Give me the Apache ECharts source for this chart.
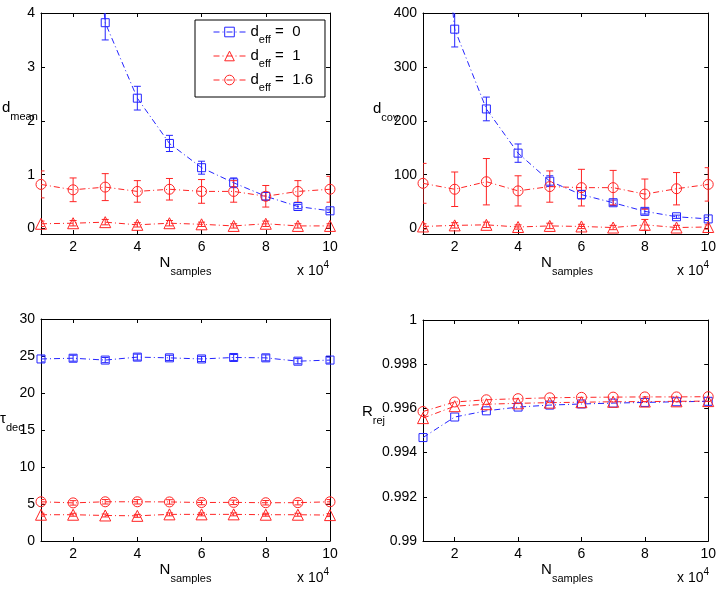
<!DOCTYPE html>
<html>
<head>
<meta charset="utf-8">
<script src="https://cdn.jsdelivr.net/npm/echarts@6/dist/echarts.min.js"></script>
<style>
  html, body { margin: 0; padding: 0; background: #fff; }
  #box { width: 719px; height: 593px; }
</style>
</head>
<body>
<div id="box"></div>
<script>
// x values (x 10^4 samples)
const nSamples = [1, 2, 3, 4, 5, 6, 7, 8, 9, 10];
const xTicks = [2, 4, 6, 8, 10];

// d_mean
const meanD0 = [23, 9.4, 3.82, 2.42, 1.58, 1.13, 0.85, 0.60, 0.41, 0.33];
const meanD0Err = [2, 0.8, 0.32, 0.22, 0.15, 0.12, 0.09, 0.07, 0.04, 0.03];
const meanD1 = [0.09, 0.10, 0.12, 0.07, 0.10, 0.08, 0.05, 0.09, 0.05, 0.05];
const meanD1Err = [0.05, 0.05, 0.05, 0.04, 0.05, 0.04, 0.04, 0.05, 0.04, 0.04];
const meanD16 = [0.82, 0.72, 0.77, 0.69, 0.73, 0.69, 0.69, 0.60, 0.69, 0.73];
const meanD16Err = [0.25, 0.22, 0.25, 0.20, 0.20, 0.22, 0.20, 0.20, 0.20, 0.24];
const meanTicks = [0, 1, 2, 3, 4];

// d_cov
const covD0 = [930, 370, 222, 140, 88, 63, 48, 32, 22, 18];
const covD0Err = [60, 33, 22, 17, 10, 8, 5, 5, 3, 3];
const covD1 = [4, 6, 7, 3, 5, 4, 2, 7, 2, 3];
const covD1Err = [5, 5, 5, 4, 5, 4, 4, 10, 4, 4];
const covD16 = [84, 73, 87, 70, 78, 76, 76, 64, 74, 82];
const covD16Err = [37, 32, 43, 28, 29, 34, 32, 28, 30, 31];
const covTicks = [0, 100, 200, 300, 400];

// tau_dec
const tauD0 = [24.6, 24.7, 24.45, 24.85, 24.75, 24.6, 24.8, 24.75, 24.3, 24.45];
const tauD0Err = [0.4, 0.4, 0.35, 0.4, 0.35, 0.35, 0.4, 0.4, 0.35, 0.4];
const tauD1 = [3.55, 3.55, 3.45, 3.4, 3.6, 3.6, 3.6, 3.55, 3.55, 3.5];
const tauD1Err = [0.2, 0.2, 0.2, 0.2, 0.2, 0.2, 0.2, 0.2, 0.2, 0.2];
const tauD16 = [5.3, 5.15, 5.3, 5.3, 5.28, 5.2, 5.22, 5.17, 5.18, 5.3];
const tauD16Err = [0.3, 0.3, 0.3, 0.3, 0.3, 0.3, 0.3, 0.3, 0.3, 0.3];
const tauTicks = [0, 5, 10, 15, 20, 25, 30];

// R_rej
const rejD0 = [0.99468, 0.99561, 0.99589, 0.99606, 0.99615, 0.99620, 0.99624, 0.99627, 0.99630, 0.99632];
const rejD1 = [0.99556, 0.99610, 0.99619, 0.99623, 0.99626, 0.99628, 0.99630, 0.99631, 0.99632, 0.99633];
const rejD16 = [0.99586, 0.99629, 0.99639, 0.99644, 0.99648, 0.99650, 0.99651, 0.99652, 0.99652, 0.99653];
const rejTicks = [0.99, 0.992, 0.994, 0.996, 0.998, 1];

const FONT = '"Liberation Sans", Arial, Helvetica, sans-serif';
const BLUE = '#2424ff';
const RED = '#ff2424';
const DASHDOT = [6, 3, 1, 3];

const grids = [
  {left: 41, top: 13, width: 289, height: 221},
  {left: 423, top: 13, width: 288, height: 221},
  {left: 41, top: 319, width: 289, height: 222},
  {left: 423, top: 320, width: 288, height: 221}
];

const rich = {
  m: {fontSize: 15, fontFamily: FONT, lineHeight: 17, verticalAlign: 'top', color: '#000', fill: '#000'},
  s: {fontSize: 11, fontFamily: FONT, lineHeight: 13, padding: [11, 0, 0, 0], verticalAlign: 'top', color: '#000', fill: '#000'},
  mp: {fontSize: 14, fontFamily: FONT, lineHeight: 17, padding: [4, 0, 0, 0], verticalAlign: 'top', color: '#000', fill: '#000'},
  p: {fontSize: 10, fontFamily: FONT, lineHeight: 11, verticalAlign: 'top', color: '#000', fill: '#000'},
  lm: {fontSize: 15, fontFamily: FONT, lineHeight: 16, verticalAlign: 'top', color: '#000'},
  ls: {fontSize: 11, fontFamily: FONT, lineHeight: 12, padding: [10, 0, 0, 0], verticalAlign: 'top', color: '#000'}
};

const legendNames = {
  d0: '{lm|d}{ls|eff}{lm| =  0}',
  d1: '{lm|d}{ls|eff}{lm| =  1}',
  d16: '{lm|d}{ls|eff}{lm| =  1.6}'
};

function xAxes(k) {
  const base = {
    type: 'value', gridIndex: k, min: 1, max: 10,
    axisLine: {show: true, onZero: false, lineStyle: {color: '#000', width: 1}},
    axisTick: {show: true, inside: true, length: 4, customValues: xTicks, lineStyle: {color: '#000'}},
    splitLine: {show: false}
  };
  return [
    Object.assign({}, base, {position: 'bottom',
      axisLabel: {show: true, customValues: xTicks, margin: 6, color: '#000', fontSize: 14, fontFamily: FONT}}),
    Object.assign({}, base, {position: 'top', axisLabel: {show: false}})
  ];
}

function yAxes(k, min, max, ticks) {
  const base = {
    type: 'value', gridIndex: k, min: min, max: max,
    axisLine: {show: true, onZero: false, lineStyle: {color: '#000', width: 1}},
    axisTick: {show: true, inside: true, length: 4, customValues: ticks, lineStyle: {color: '#000'}},
    splitLine: {show: false}
  };
  return [
    Object.assign({}, base, {position: 'left',
      axisLabel: {show: true, customValues: ticks, margin: 6, color: '#000', fontSize: 14, fontFamily: FONT,
        formatter: v => String(v)}}),
    Object.assign({}, base, {position: 'right', axisLabel: {show: false}})
  ];
}

function lineSeries(k, name, vals, color, symbol, size) {
  return {
    type: 'line', name: name, xAxisIndex: 2 * k, yAxisIndex: 2 * k,
    data: nSamples.map((x, i) => [x, vals[i]]),
    symbol: symbol, symbolSize: size, showAllSymbol: true, clip: true,
    lineStyle: {color: color, width: 1, type: DASHDOT},
    itemStyle: {color: 'rgba(0,0,0,0)', borderColor: color, borderWidth: 1},
    emphasis: {disabled: true}, z: 3
  };
}

function errSeries(k, vals, errs, color) {
  return {
    type: 'custom', xAxisIndex: 2 * k, yAxisIndex: 2 * k, clip: true, silent: true,
    data: nSamples.map((x, i) => [x, vals[i] - errs[i], vals[i] + errs[i]]),
    encode: {x: 0, y: [1, 2]},
    renderItem: (params, api) => {
      const lo = api.coord([api.value(0), api.value(1)]);
      const hi = api.coord([api.value(0), api.value(2)]);
      const w = 3.5;
      const st = {stroke: color, lineWidth: 1};
      return {type: 'group', children: [
        {type: 'line', shape: {x1: lo[0], y1: lo[1], x2: hi[0], y2: hi[1]}, style: st},
        {type: 'line', shape: {x1: lo[0] - w, y1: lo[1], x2: lo[0] + w, y2: lo[1]}, style: st},
        {type: 'line', shape: {x1: hi[0] - w, y1: hi[1], x2: hi[0] + w, y2: hi[1]}, style: st}
      ]};
    },
    z: 2
  };
}

function label(x, y, text, align) {
  return {type: 'text', x: x, y: y, silent: true,
    style: {text: text, rich: rich, align: align || 'left', verticalAlign: 'top', fontFamily: FONT, fill: '#000'}};
}

const series = [
  lineSeries(0, 'd0', meanD0, BLUE, 'rect', 8), errSeries(0, meanD0, meanD0Err, BLUE),
  lineSeries(0, 'd1', meanD1, RED, 'triangle', 11), errSeries(0, meanD1, meanD1Err, RED),
  lineSeries(0, 'd16', meanD16, RED, 'circle', 10), errSeries(0, meanD16, meanD16Err, RED),

  lineSeries(1, 'd0', covD0, BLUE, 'rect', 8), errSeries(1, covD0, covD0Err, BLUE),
  lineSeries(1, 'd1', covD1, RED, 'triangle', 11), errSeries(1, covD1, covD1Err, RED),
  lineSeries(1, 'd16', covD16, RED, 'circle', 10), errSeries(1, covD16, covD16Err, RED),

  lineSeries(2, 'd0', tauD0, BLUE, 'rect', 8), errSeries(2, tauD0, tauD0Err, BLUE),
  lineSeries(2, 'd1', tauD1, RED, 'triangle', 11), errSeries(2, tauD1, tauD1Err, RED),
  lineSeries(2, 'd16', tauD16, RED, 'circle', 10), errSeries(2, tauD16, tauD16Err, RED),

  lineSeries(3, 'd0', rejD0, BLUE, 'rect', 8),
  lineSeries(3, 'd1', rejD1, RED, 'triangle', 11),
  lineSeries(3, 'd16', rejD16, RED, 'circle', 10)
];

const myecharts = echarts.init(document.getElementById('box'), null, {renderer: 'canvas'});
const option = {
  animation: false,
  backgroundColor: '#fff',
  grid: grids,
  xAxis: [].concat(xAxes(0), xAxes(1), xAxes(2), xAxes(3)),
  yAxis: [].concat(
    yAxes(0, -0.1, 4, meanTicks),
    yAxes(1, -10, 400, covTicks),
    yAxes(2, 0, 30, tauTicks),
    yAxes(3, 0.99, 1, rejTicks)
  ),
  legend: {
    left: 195, top: 20, orient: 'vertical',
    data: ['d0', 'd1', 'd16'],
    itemWidth: 32, itemHeight: 12, itemGap: 3,
    padding: [4, 12, 4, 18],
    borderColor: '#000', borderWidth: 1, borderRadius: 0,
    backgroundColor: '#fff',
    selectedMode: false,
    itemStyle: {borderWidth: 1},
    lineStyle: {width: 1},
    formatter: n => legendNames[n],
    textStyle: {rich: rich}
  },
  graphic: [
    label(2, 100, '{m|d}{s|mean}'),
    label(185.5, 255, '{m|N}{s|samples}', 'center'),
    label(297, 260, '{mp|x 10}{p|4}'),

    label(373, 101, '{m|d}{s|cov}'),
    label(567, 255, '{m|N}{s|samples}', 'center'),
    label(677, 260, '{mp|x 10}{p|4}'),

    label(0, 411, '{m|τ}{s|dec}'),
    label(185.5, 562, '{m|N}{s|samples}', 'center'),
    label(297, 567, '{mp|x 10}{p|4}'),

    label(362, 404, '{m|R}{s|rej}'),
    label(567, 562, '{m|N}{s|samples}', 'center'),
    label(677, 567, '{mp|x 10}{p|4}')
  ],
  series: series
};
myecharts.setOption(option);
</script>
</body>
</html>
